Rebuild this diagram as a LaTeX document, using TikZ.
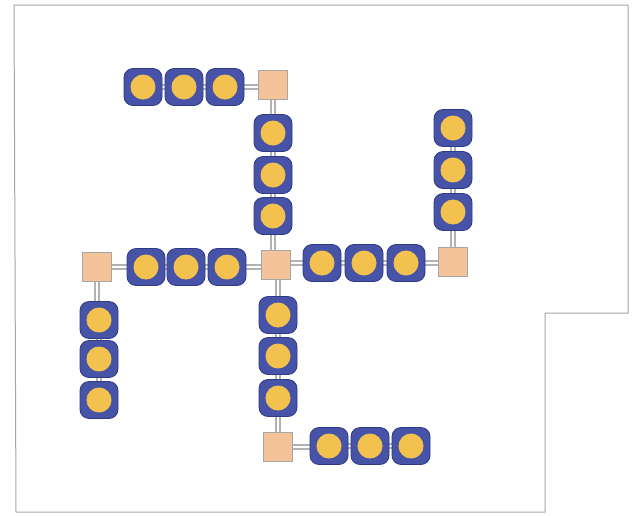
\documentclass[tikz,border=0pt]{standalone}
\usetikzlibrary{backgrounds}
\begin{document}
\begin{tikzpicture}[x=1pt,y=-1pt,
  bead/.style={draw=beadedge, fill=beadblue, rounded corners=9pt, minimum width=38pt, minimum height=37pt, line width=0.8pt, inner sep=0pt,
    path picture={\fill[beadyellow] (path picture bounding box.center) circle (12.5pt);}},
  junction/.style={draw=gray!70, fill=peach, minimum size=29pt, inner sep=0pt, line width=0.8pt},
  link/.style={draw=gray!60, double=white, double distance=2.6pt, line width=1.4pt},
  outline/.style={draw=gray!70, line width=1pt}]
\definecolor{beadblue}{HTML}{4653A6}
\definecolor{beadedge}{HTML}{2E3A86}
\definecolor{beadyellow}{HTML}{F3C24E}
\definecolor{peach}{HTML}{F4C39A}
\useasboundingbox (0,0) rectangle (637,515);
\draw[outline] (14,5) -- (628,5) -- (628,313) -- (545,313) -- (545,512) -- (16,512) -- cycle;
% junctions
\node[junction] (jt) at (273,85) {};
\node[junction] (jc) at (276,265) {};
\node[junction] (jl) at (97,267) {};
\node[junction] (jr) at (453,262) {};
\node[junction] (jb) at (278,447) {};
% beads
\node[bead] (t1) at (143,87) {};
\node[bead] (t2) at (184,87) {};
\node[bead] (t3) at (225,87) {};
\node[bead] (v1) at (273,133) {};
\node[bead] (v2) at (273,175) {};
\node[bead] (v3) at (273,216) {};
\node[bead] (l1) at (146,267) {};
\node[bead] (l2) at (186,267) {};
\node[bead] (l3) at (227,267) {};
\node[bead] (d1) at (99,320) {};
\node[bead] (d2) at (99,359) {};
\node[bead] (d3) at (99,400) {};
\node[bead] (r1) at (322,263) {};
\node[bead] (r2) at (364,263) {};
\node[bead] (r3) at (406,263) {};
\node[bead] (u1) at (453,128) {};
\node[bead] (u2) at (453,170) {};
\node[bead] (u3) at (453,212) {};
\node[bead] (s1) at (278,315) {};
\node[bead] (s2) at (278,356) {};
\node[bead] (s3) at (278,398) {};
\node[bead] (b1) at (329,446) {};
\node[bead] (b2) at (370,446) {};
\node[bead] (b3) at (411,446) {};
% links
\begin{scope}[on background layer]
\draw[link] (t1) -- (t2) -- (t3) -- (t3 -| jt);
\draw[link] (jt) -- (v1) -- (v2) -- (v3) -- (v3 |- jc);
\draw[link] (jl) -- (l1) -- (l2) -- (l3) -- (l3 -| jc);
\draw[link] (jl) -- (jl |- d1) (d1) -- (d2) -- (d3);
\draw[link] (r1 -| jc) -- (r1) -- (r2) -- (r3) -- (r3 -| jr);
\draw[link] (jr) -- (jr |- u3) (u3) -- (u2) -- (u1);
\draw[link] (s1 |- jc) -- (s1) -- (s2) -- (s3) -- (jb);
\draw[link] (jb) -- (jb -| b1) (b1) -- (b2) -- (b3);
\end{scope}
\end{tikzpicture}
\end{document}
